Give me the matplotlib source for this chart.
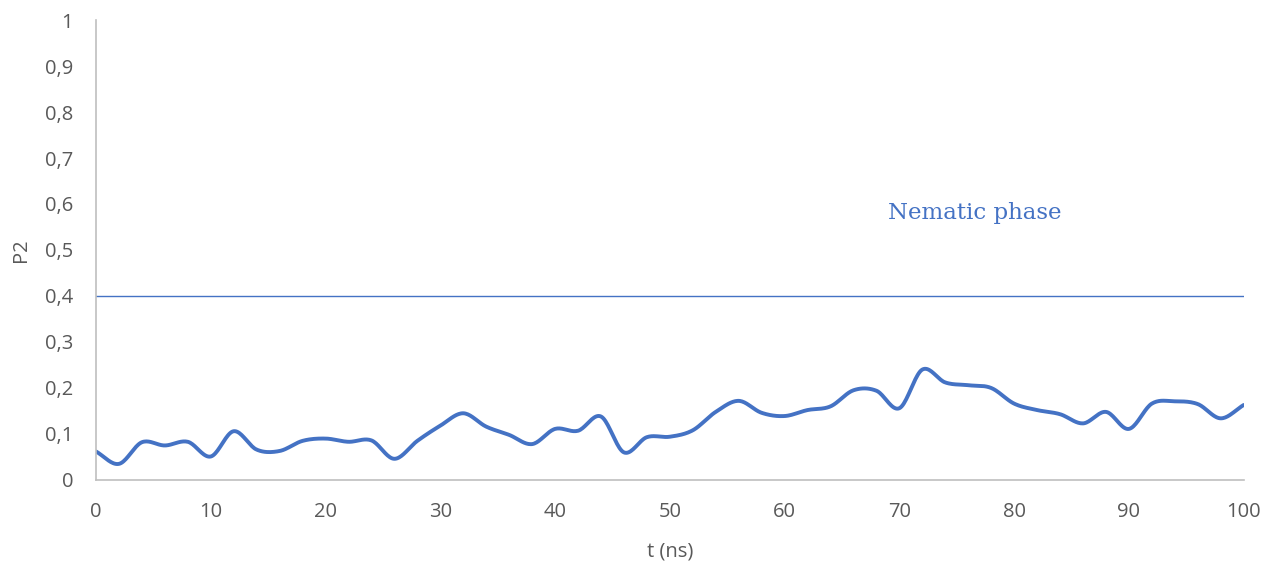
import numpy as np
import matplotlib.pyplot as plt

# order parameter P2 sampled every 2 ns
t = list(range(0, 101, 2))
p2 = [0.062, 0.035, 0.082, 0.075, 0.083, 0.051, 0.106, 0.066, 0.063, 0.085,
      0.090, 0.083, 0.086, 0.046, 0.085, 0.118, 0.145, 0.116, 0.098, 0.078,
      0.111, 0.107, 0.138, 0.060, 0.093, 0.094, 0.108, 0.148, 0.172, 0.146,
      0.139, 0.152, 0.160, 0.195, 0.194, 0.156, 0.240, 0.212, 0.206, 0.200,
      0.166, 0.152, 0.143, 0.123, 0.148, 0.111, 0.166, 0.171, 0.165, 0.134,
      0.163]
threshold = 0.4
xticks = list(range(0, 101, 10))
yticks = [i / 10 for i in range(11)]

blue = '#4472C4'
grey = '#595959'


def smooth(x, y, n=20):
    # Catmull-Rom spline through the samples, like a smoothed line in a spreadsheet
    x = np.asarray(x, float)
    y = np.asarray(y, float)
    px = np.concatenate([[2 * x[0] - x[1]], x, [2 * x[-1] - x[-2]]])
    py = np.concatenate([[2 * y[0] - y[1]], y, [2 * y[-1] - y[-2]]])
    xs, ys = [], []
    s = np.linspace(0, 1, n, endpoint=False)
    for i in range(1, len(px) - 2):
        for p, out in ((px, xs), (py, ys)):
            p0, p1, p2_, p3 = p[i - 1], p[i], p[i + 1], p[i + 2]
            out.extend(0.5 * (2 * p1 + (-p0 + p2_) * s
                              + (2 * p0 - 5 * p1 + 4 * p2_ - p3) * s ** 2
                              + (-p0 + 3 * p1 - 3 * p2_ + p3) * s ** 3))
    xs.append(x[-1])
    ys.append(y[-1])
    return xs, ys


plt.rcParams['font.family'] = ['Open Sans', 'DejaVu Sans']

fig = plt.figure(figsize=(12.71, 5.64), dpi=100)
ax = fig.add_axes([0.0755, 0.149, 0.903, 0.8155])

sx, sy = smooth(t, p2)
ax.plot(sx, sy, color=blue, lw=2.8, solid_capstyle='round')
ax.plot([t[0], t[-1]], [threshold, threshold], color=blue, lw=1.0)
ax.text(76.6, 0.58, 'Nematic phase', color=blue, fontsize=16.5,
        family='DejaVu Serif', ha='center', va='center')

ax.set_xlim(0, 100)
ax.set_ylim(0, 1)
ax.set_xticks(xticks)
ax.set_yticks(yticks)
ax.set_xticklabels([str(v) for v in xticks])
ax.set_yticklabels([('%g' % v).replace('.', ',') for v in yticks])
ax.tick_params(length=0, labelsize=14.5, labelcolor=grey)
ax.tick_params(axis='x', pad=16)
ax.tick_params(axis='y', pad=16.5)
for side in ('top', 'right'):
    ax.spines[side].set_visible(False)
for side in ('left', 'bottom'):
    ax.spines[side].set_color('#BFBFBF')
    ax.spines[side].set_linewidth(1.2)

ax.set_xlabel('t (ns)', fontsize=14.5, color=grey, labelpad=14)
ax.set_ylabel('P2', fontsize=14.5, color=grey, labelpad=10)

fig.savefig('out.png', dpi=100)
